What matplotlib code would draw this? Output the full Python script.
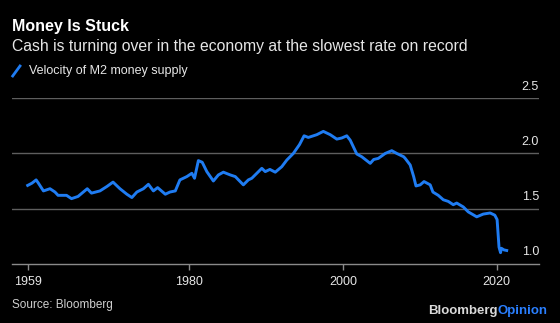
import matplotlib.pyplot as plt
from matplotlib.lines import Line2D
from matplotlib.transforms import blended_transform_factory

# velocity of M2 money supply, read as (year, ratio) points
years = [
    1959.0, 1959.55, 1960.1, 1960.4, 1961.05, 1961.9, 1962.55, 1962.95, 1964.05, 1964.7,
    1965.55, 1966.75, 1967.3, 1968.4, 1969.3, 1970.1, 1971.0, 1971.9, 1972.55, 1973.2,
    1974.05, 1974.7, 1975.35, 1975.9, 1976.9, 1977.5, 1978.2, 1978.8, 1979.7, 1980.35,
    1980.7, 1981.2, 1981.7, 1982.3, 1983.15, 1983.8, 1984.45, 1985.35, 1986.0, 1987.05,
    1987.7, 1988.15, 1988.8, 1989.45, 1989.9, 1990.5, 1991.2, 1992.05, 1992.7, 1993.55,
    1994.35, 1994.95, 1995.5, 1996.6, 1997.45, 1998.35, 1999.2, 1999.85, 2000.5, 2000.95,
    2001.8, 2002.45, 2003.55, 2004.0, 2004.6, 2005.5, 2006.35, 2007.0, 2007.9, 2008.1,
    2008.75, 2009.2, 2009.5, 2010.05, 2010.55, 2011.35, 2011.7, 2012.4, 2013.05, 2013.7,
    2014.35, 2014.8, 2015.65, 2016.3, 2017.4, 2018.25, 2019.15, 2019.75, 2020.05, 2020.3,
    2020.5, 2020.6, 2020.95, 2021.3,
]
velocity = [
    1.71, 1.73, 1.76, 1.73, 1.66, 1.68, 1.65, 1.62, 1.62, 1.59,
    1.61, 1.68, 1.64, 1.66, 1.70, 1.74, 1.68, 1.63, 1.60, 1.65,
    1.68, 1.72, 1.66, 1.69, 1.63, 1.65, 1.66, 1.76, 1.79, 1.82,
    1.775, 1.935, 1.92, 1.835, 1.75, 1.805, 1.83, 1.805, 1.79, 1.715,
    1.76, 1.775, 1.82, 1.865, 1.835, 1.855, 1.83, 1.88, 1.94, 2.00,
    2.08, 2.16, 2.145, 2.17, 2.20, 2.17, 2.13, 2.14, 2.16, 2.12,
    1.995, 1.97, 1.91, 1.945, 1.955, 2.00, 2.025, 2.00, 1.97, 1.955,
    1.895, 1.79, 1.705, 1.715, 1.745, 1.715, 1.65, 1.62, 1.58, 1.565,
    1.535, 1.55, 1.515, 1.47, 1.425, 1.45, 1.46, 1.44, 1.40, 1.15,
    1.10, 1.14, 1.125, 1.12,
]

x_ticks = [1959, 1980, 2000, 2020]
y_ticks = [1.0, 1.5, 2.0, 2.5]

BG = "black"
BLUE = "#1f7cf2"
GRID = "#5e5e5e"
TXT = "#e6e6e6"
W, H = 560, 323

plt.rcParams["font.family"] = ["Liberation Sans", "DejaVu Sans"]

fig = plt.figure(figsize=(W / 100, H / 100), dpi=100, facecolor=BG)

def fx(px):
    return px / W

def fy(py):
    return 1 - py / H

ax = fig.add_axes([fx(12.3), fy(263.7), fx(539) - fx(12.3), fy(98.3) - fy(263.7)])
ax.set_facecolor(BG)
ax.plot(years, velocity, color=BLUE, lw=2.1, solid_joinstyle="round", zorder=3)

ax.set_xlim(1957.0, 2025.5)
ax.set_ylim(1.0, 2.5)
for s in ax.spines.values():
    s.set_visible(False)

# horizontal rules; the bottom one doubles as the x axis
for v in y_ticks[1:]:
    ax.axhline(v, color=GRID, lw=1.0, zorder=1)
ax.axhline(1.0, color="#8a8a8a", lw=1.0, zorder=1, clip_on=False)

ax.set_yticks([])
ax.set_xticks(x_ticks)
ax.set_xticklabels([str(t) for t in x_ticks])
ax.tick_params(axis="x", colors="#8a8a8a", length=4, width=1.0, pad=5,
               labelcolor=TXT, labelsize=9)

# y labels sit right-aligned above each rule
tr = blended_transform_factory(ax.transAxes, ax.transData)
for v in y_ticks:
    ax.annotate(f"{v:.1f}", xy=(1.0, v), xycoords=tr, xytext=(0, 8.4),
                textcoords="offset points", ha="right", va="center",
                color=TXT, fontsize=9)

fig.text(fx(12), fy(26.7), "Money Is Stuck", color="white", fontsize=11.5,
         fontweight="bold", ha="left", va="center")
fig.text(fx(12), fy(46.7), "Cash is turning over in the economy at the slowest rate on record",
         color=TXT, fontsize=11.3, ha="left", va="center")

fig.add_artist(Line2D([fx(12.7), fx(20)], [fy(76), fy(66)], color=BLUE, lw=2.0,
                      transform=fig.transFigure))
fig.text(fx(29.3), fy(71), "Velocity of M2 money supply", color=TXT, fontsize=9,
         ha="left", va="center")

fig.text(fx(12.5), fy(305), "Source: Bloomberg", color="#cfcfcf", fontsize=8.5,
         ha="left", va="center")

# two-colour wordmark: place "Opinion" flush right, then "Bloomberg" just before it
opinion = fig.text(fx(548), fy(311), "Opinion", color="#2a7fff", fontsize=9.5,
                   fontweight="bold", ha="right", va="center")
fig.canvas.draw()
ext = opinion.get_window_extent()
fig.text(ext.x0 / W, fy(311), "Bloomberg", color="#d9d9d9", fontsize=9.5,
         fontweight="bold", ha="right", va="center")

fig.savefig("out.png", dpi=100, facecolor=BG)
